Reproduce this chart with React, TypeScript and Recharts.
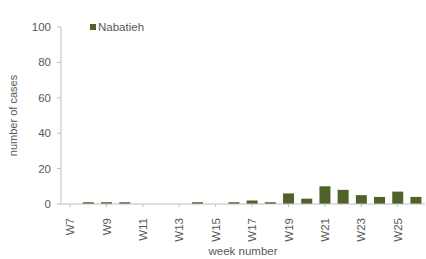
import * as React from "react";
import { BarChart, Bar, XAxis, YAxis, Legend, Label } from "recharts";

const weeks = [
  "W7", "W8", "W9", "W10", "W11", "W12", "W13", "W14", "W15", "W16",
  "W17", "W18", "W19", "W20", "W21", "W22", "W23", "W24", "W25", "W26",
];
const nabatieh = [0, 1, 1, 1, 0, 0, 0, 1, 0, 1, 2, 1, 6, 3, 10, 8, 5, 4, 7, 4];
const yTicks = [0, 20, 40, 60, 80, 100];

const data = weeks.map((w, i) => ({ week: w, Nabatieh: nabatieh[i] }));

const GREEN = "#4f6228";
const TEXT = "#595959";

// rotated category label, reads bottom-to-top like the Excel original
const WeekTick = (props: any) => {
  const { x, y, payload } = props;
  const yy = y + 9;
  return (
    <text
      x={x}
      y={yy}
      transform={`rotate(-90 ${x} ${yy})`}
      textAnchor="end"
      dominantBaseline="central"
      fontSize={11.5}
      fill={TEXT}
    >
      {payload.value}
    </text>
  );
};

const LegendBox = () => (
  <div style={{ display: "flex", alignItems: "center", fontSize: 11.5, color: TEXT }}>
    <span style={{ width: 6, height: 6, background: GREEN, marginRight: 2, display: "inline-block" }} />
    Nabatieh
  </div>
);

export default function App() {
  return (
    <div style={{ position: "absolute", left: 0, top: 0, width: 426, height: 259, background: "#fff", fontFamily: "Liberation Sans, Arial, sans-serif" }}>
      <BarChart width={426} height={259} data={data} margin={{ top: 15, right: 1, left: 0, bottom: 0 }} barCategoryGap="20%">
        <XAxis
          dataKey="week"
          interval={1}
          height={55}
          tick={<WeekTick />}
          tickLine={{ stroke: "#bfbfbf" }}
          tickSize={3}
          axisLine={{ stroke: "#bfbfbf" }}
        >
          <Label value="week number" position="insideBottom" offset={4} fontSize={11.5} fill={TEXT} />
        </XAxis>
        <YAxis
          domain={[0, 100]}
          ticks={yTicks}
          width={61}
          tick={{ fontSize: 11.5, fill: TEXT }}
          tickLine={{ stroke: "#bfbfbf" }}
          tickSize={4}
          tickMargin={6}
          axisLine={{ stroke: "#bfbfbf" }}
        >
          <Label value="number of cases" angle={-90} position="insideLeft" offset={13} fontSize={11} fill={TEXT} style={{ textAnchor: "middle" }} />
        </YAxis>
        <Legend
          verticalAlign="top"
          align="left"
          content={<LegendBox />}
          wrapperStyle={{ top: 21, left: 90, width: "auto" }}
        />
        <Bar dataKey="Nabatieh" fill={GREEN} isAnimationActive={false} />
      </BarChart>
    </div>
  );
}
